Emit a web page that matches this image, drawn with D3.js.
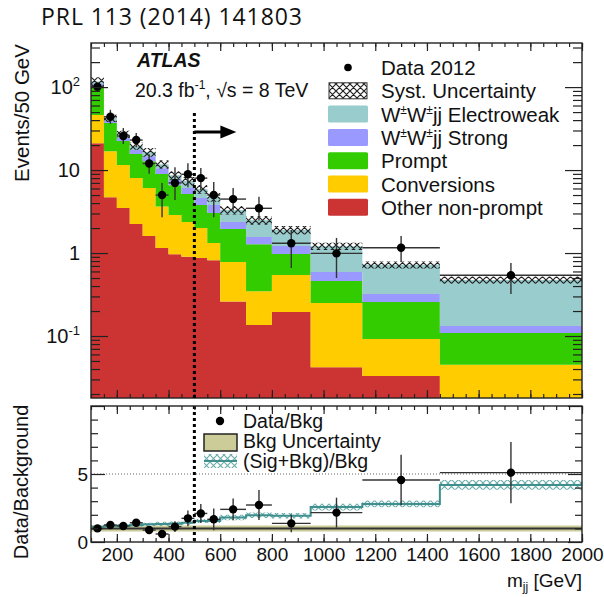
<!DOCTYPE html>
<html>
<head>
<meta charset="utf-8">
<script src="https://cdn.jsdelivr.net/npm/d3@7"></script>
<style>
  body { margin: 0; background: #fff; }
  svg { display: block; }
  text { font-family: "Liberation Sans", Arial, Helvetica, sans-serif; fill: #111; }
</style>
</head>
<body>
<svg id="chart" width="604" height="597"></svg>
<script>
// m_jj bin edges [GeV]
const binEdges = [100, 150, 200, 250, 300, 350, 400, 450, 500, 550, 600, 700, 800, 950, 1150, 1450, 2000];

// Stacked expectation, events / 50 GeV
const otherNonPrompt = [21, 4.7, 3.5, 2.24, 1.6, 1.15, 0.97, 0.9, 0.87, 0.82, 0.26, 0.136, 0.195, 0.042, 0.033, 0.012];
const conversions    = [25, 12.2, 8.0, 5.8, 4.5, 2.5, 1.9, 1.46, 1.13, 0.5, 0.52, 0.21, 0.35, 0.208, 0.059, 0.033];
const promptBkg      = [57, 20.0, 10.9, 7.6, 6.7, 5.3, 3.7, 2.78, 1.79, 1.71, 1.17, 0.93, 0.43, 0.21, 0.165, 0.064];
const wwStrong       = [6, 2.0, 1.9, 1.8, 1.9, 1.6, 1.0, 0.93, 0.81, 0.76, 0.41, 0.28, 0.24, 0.13, 0.064, 0.023];
const wwEWK          = [8, 3.4, 2.8, 2.1, 1.8, 1.2, 1.1, 1.3, 1.3, 0.94, 0.94, 0.94, 0.68, 0.62, 0.40, 0.341];
const systRel        = [0.12, 0.1, 0.1, 0.1, 0.12, 0.12, 0.12, 0.12, 0.12, 0.12, 0.12, 0.12, 0.12, 0.1, 0.1, 0.1];

// Data 2012, events / 50 GeV
const data2012   = [101, 43.9, 25.7, 23.0, 12.0, 5.0, 7.0, 8.9, 8.0, 5.0, 4.47, 3.46, 1.31, 0.99, 1.16, 0.54];
const dataErrUp  = [10, 9.4, 6.4, 5.0, 3.5, 2.0, 3.8, 3.2, 2.6, 2.2, 1.6, 1.3, 0.58, 0.53, 0.44, 0.22];
const dataErrDn  = [10, 7.8, 5.1, 4.2, 3.0, 2.3, 2.65, 2.7, 2.3, 2.3, 1.2, 1.0, 0.65, 0.49, 0.38, 0.22];

// Ratio panel
const ratioData   = [1.0, 1.25, 1.18, 1.42, 0.88, 0.59, 1.13, 1.74, 2.1, 1.67, 2.4, 2.72, 1.37, 2.16, 4.56, 5.1];
const ratioErr    = [0.12, 0.2, 0.22, 0.28, 0.28, 0.3, 0.4, 0.58, 0.7, 0.8, 0.8, 1.1, 0.65, 1.1, 1.85, 2.25];
const ratioSigBkg = [1.13, 1.18, 1.2, 1.25, 1.3, 1.33, 1.35, 1.42, 1.55, 1.55, 1.8, 1.97, 1.93, 2.57, 2.8, 4.2];
const sigBkgUnc   = [0.12, 0.12, 0.12, 0.12, 0.12, 0.15, 0.15, 0.15, 0.15, 0.15, 0.2, 0.2, 0.2, 0.25, 0.25, 0.35];
const bkgUnc      = [0.22, 0.22, 0.22, 0.22, 0.22, 0.22, 0.22, 0.22, 0.22, 0.22, 0.22, 0.22, 0.22, 0.22, 0.22, 0.22];

// Axis ticks
const xMajorTicks = [200, 400, 600, 800, 1000, 1200, 1400, 1600, 1800, 2000];
const xMinorTicks = d3.range(100, 2001, 50);
const yMajorTicks = [0.1, 1, 10, 100];
const yMajorLabels = [["10", "-1"], ["1", ""], ["10", ""], ["10", "2"]];
const rMajorTicks = [0, 5, 10];
const rMinorTicks = [1, 2, 3, 4, 6, 7, 8, 9];
const mjjCut = 500;

// ---- layout ----
const L = 91, R = 582, T1 = 43, B1 = 398, T2 = 406, B2 = 542;
const svg = d3.select("#chart");
const x = d3.scaleLinear().domain([100, 2000]).range([L, R]);
const y = d3.scaleLog().domain([0.0179, 340]).range([B1, T1]).clamp(true);
const yr = d3.scaleLinear().domain([0, 10]).range([B2, T2]);
const yMin = y.domain()[0];
const nb = binEdges.length - 1;
const bx0 = i => x(binEdges[i]);
const bx1 = i => x(binEdges[i + 1]);
const bxc = i => x((binEdges[i] + binEdges[i + 1]) / 2);

const defs = svg.append("defs");
defs.append("clipPath").attr("id", "clipMain").append("rect")
  .attr("x", L).attr("y", T1).attr("width", R - L).attr("height", B1 - T1);
defs.append("clipPath").attr("id", "clipLow").append("rect")
  .attr("x", L).attr("y", T2).attr("width", R - L).attr("height", B2 - T2);
const hatch = defs.append("pattern").attr("id", "hatchSyst")
  .attr("patternUnits", "userSpaceOnUse").attr("width", 7).attr("height", 7);
hatch.append("path").attr("d", "M0,0L7,7M7,0L0,7M-1,6L1,8M6,-1L8,1")
  .attr("stroke", "#222").attr("stroke-width", 1.2).attr("fill", "none");
const hatchT = defs.append("pattern").attr("id", "hatchTeal")
  .attr("patternUnits", "userSpaceOnUse").attr("width", 7).attr("height", 7);
hatchT.append("path").attr("d", "M0,0L7,7M7,0L0,7")
  .attr("stroke", "#6aabab").attr("stroke-width", 1.1).attr("fill", "none");

// ---- title ----
svg.append("text").attr("x", 41).attr("y", 25)
  .style("font-family", "'Open Sans', 'Noto Sans', sans-serif").style("font-size", "23px")
  .attr("textLength", 261).attr("lengthAdjust", "spacing")
  .text("PRL 113 (2014) 141803");

// ---- main panel: stacked histogram, one step-area per component ----
const rows = d3.range(nb).map(i => ({
  other: otherNonPrompt[i], conv: conversions[i], prompt: promptBkg[i],
  strong: wwStrong[i], ewk: wwEWK[i]
}));
const keys = ["other", "conv", "prompt", "strong", "ewk"];
const colors = { other: "#cc3333", conv: "#ffcc00", prompt: "#33cc00", strong: "#9999ff", ewk: "#99cccc" };
const stacked = d3.stack().keys(keys)(rows);

const stepArea = d3.area().curve(d3.curveStepAfter)
  .x(d => x(d.edge))
  .y0(d => y(Math.max(d.lo, yMin)))
  .y1(d => y(Math.max(d.hi, yMin)));
const withEnd = pts => pts.concat([{ ...pts[pts.length - 1], edge: binEdges[nb] }]);

const gMain = svg.append("g").attr("clip-path", "url(#clipMain)");
stacked.forEach(layer => {
  const pts = withEnd(layer.map((d, i) => ({ edge: binEdges[i], lo: d[0], hi: d[1] })));
  gMain.append("path").attr("d", stepArea(pts)).attr("fill", colors[layer.key]);
});

// systematic band around the total
const totals = stacked[stacked.length - 1].map(d => d[1]);
const systPts = withEnd(totals.map((t, i) => ({ edge: binEdges[i], lo: t * (1 - systRel[i]), hi: t * (1 + systRel[i]) })));
gMain.append("path").attr("d", stepArea(systPts)).attr("fill", "url(#hatchSyst)");

// data points
const gData = gMain.append("g");
d3.range(nb).forEach(i => {
  const v = data2012[i];
  gData.append("line").attr("x1", bx0(i)).attr("x2", bx1(i)).attr("y1", y(v)).attr("y2", y(v))
    .attr("stroke", "#333").attr("stroke-width", 1.4);
  gData.append("line").attr("x1", bxc(i)).attr("x2", bxc(i))
    .attr("y1", y(v + dataErrUp[i])).attr("y2", y(v - dataErrDn[i]))
    .attr("stroke", "#333").attr("stroke-width", 1.4);
  gData.append("circle").attr("cx", bxc(i)).attr("cy", y(v)).attr("r", 4.2).attr("fill", "#000");
});

// ---- main panel axes ----
function tickAxis(axis, tx, ty, size) {
  svg.append("g").attr("transform", `translate(${tx},${ty})`)
    .call(axis.tickSize(size).tickFormat(""))
    .call(g => g.select(".domain").remove())
    .call(g => g.selectAll("line").attr("stroke", "#222").attr("stroke-width", 1.2));
}
tickAxis(d3.axisBottom(x).tickValues(xMajorTicks), 0, B1, -8);
tickAxis(d3.axisBottom(x).tickValues(xMinorTicks), 0, B1, -4);
tickAxis(d3.axisTop(x).tickValues(xMajorTicks), 0, T1, -8);
tickAxis(d3.axisTop(x).tickValues(xMinorTicks), 0, T1, -4);

const yMinor = [];
[0.01, 0.1, 1, 10, 100].forEach(dec => d3.range(2, 10).forEach(k => {
  const v = k * dec;
  if (v > yMin && v < 340) yMinor.push(v);
}));
tickAxis(d3.axisLeft(y).tickValues(yMajorTicks), L, 0, -17);
tickAxis(d3.axisLeft(y).tickValues(yMinor), L, 0, -9);
tickAxis(d3.axisRight(y).tickValues(yMajorTicks), R, 0, -17);
tickAxis(d3.axisRight(y).tickValues(yMinor), R, 0, -9);

yMajorTicks.forEach((v, i) => {
  const t = svg.append("text").attr("x", 80).attr("y", y(v) + 7)
    .attr("text-anchor", "end").style("font-size", "20px");
  t.append("tspan").text(yMajorLabels[i][0]);
  if (yMajorLabels[i][1]) {
    t.append("tspan").attr("dy", -8).style("font-size", "13px").text(yMajorLabels[i][1]);
  }
});

svg.append("rect").attr("x", L).attr("y", T1).attr("width", R - L).attr("height", B1 - T1)
  .attr("fill", "none").attr("stroke", "#222").attr("stroke-width", 1.4);

svg.append("text").attr("transform", `translate(29,113) rotate(-90)`)
  .attr("text-anchor", "middle").style("font-size", "20.5px").text("Events/50 GeV");

// ---- labels inside main panel ----
svg.append("text").attr("x", 137).attr("y", 67)
  .style("font-size", "19.5px").style("font-weight", "bold").style("font-style", "italic")
  .text("ATLAS");
const lumi = svg.append("text").attr("x", 135).attr("y", 97).style("font-size", "19.5px");
lumi.append("tspan").text("20.3 fb");
lumi.append("tspan").attr("dy", -8).style("font-size", "12px").text("-1");
lumi.append("tspan").attr("dy", 8).text(", \u221As = 8 TeV");

// cut line and arrow
const cutX = x(mjjCut);
svg.append("line").attr("x1", cutX).attr("x2", cutX).attr("y1", 113).attr("y2", B1)
  .attr("stroke", "#000").attr("stroke-width", 3).attr("stroke-dasharray", "3,3");
svg.append("line").attr("x1", cutX).attr("x2", cutX + 28).attr("y1", 132).attr("y2", 132)
  .attr("stroke", "#000").attr("stroke-width", 3);
svg.append("path")
  .attr("d", `M${cutX + 26},125.5L${cutX + 42},132L${cutX + 26},138.5Z`).attr("fill", "#000");

// ---- main legend ----
const legItems = [
  { label: ["Data 2012"], type: "dot" },
  { label: ["Syst. Uncertainty"], type: "hatch" },
  { label: ["W", "\u00B1", "W", "\u00B1", "jj Electroweak"], type: "ewk" },
  { label: ["W", "\u00B1", "W", "\u00B1", "jj Strong"], type: "strong" },
  { label: ["Prompt"], type: "prompt" },
  { label: ["Conversions"], type: "conv" },
  { label: ["Other non-prompt"], type: "other" }
];
const legTop = 67.5, legStep = 23.3;
legItems.forEach((it, i) => {
  const cy = legTop + i * legStep;
  if (it.type === "dot") {
    svg.append("circle").attr("cx", 348).attr("cy", cy).attr("r", 3.8).attr("fill", "#000");
  } else if (it.type === "hatch") {
    svg.append("rect").attr("x", 329).attr("y", cy - 8).attr("width", 38).attr("height", 16)
      .attr("fill", "url(#hatchSyst)").attr("stroke", "#333").attr("stroke-width", 1);
  } else {
    svg.append("rect").attr("x", 328).attr("y", cy - 8.5).attr("width", 40).attr("height", 17)
      .attr("rx", 1.5).attr("fill", colors[it.type]);
  }
  const t = svg.append("text").attr("x", 381).attr("y", cy + 7.5).style("font-size", "20.5px");
  it.label.forEach((s, k) => {
    if (s === "\u00B1") {
      t.append("tspan").attr("dy", -8).style("font-size", "12px").text(s);
    } else {
      const sp = t.append("tspan").text(s);
      if (k > 0 && it.label[k - 1] === "\u00B1") sp.attr("dy", 8);
    }
  });
});

// ---- ratio panel ----
const ratioArea = d3.area().curve(d3.curveStepAfter)
  .x(d => x(d.edge)).y0(d => yr(d.lo)).y1(d => yr(d.hi));
const gLow = svg.append("g").attr("clip-path", "url(#clipLow)");
// background uncertainty band
gLow.append("path")
  .attr("d", ratioArea(withEnd(bkgUnc.map((u, i) => ({ edge: binEdges[i], lo: 1 - u, hi: 1 + u })))))
  .attr("fill", "#cccc99");
gLow.append("line").attr("x1", L).attr("x2", R).attr("y1", yr(1)).attr("y2", yr(1))
  .attr("stroke", "#333").attr("stroke-width", 2);
// reference line at 5
gLow.append("line").attr("x1", L).attr("x2", R).attr("y1", yr(5)).attr("y2", yr(5))
  .attr("stroke", "#666").attr("stroke-width", 1).attr("stroke-dasharray", "1,2");
// (Sig+Bkg)/Bkg band and line
gLow.append("path")
  .attr("d", ratioArea(withEnd(ratioSigBkg.map((v, i) => ({ edge: binEdges[i], lo: v - sigBkgUnc[i], hi: v + sigBkgUnc[i] })))))
  .attr("fill", "url(#hatchTeal)");
const stepPts = ratioSigBkg.map((v, i) => [binEdges[i], v]).concat([[binEdges[nb], ratioSigBkg[nb - 1]]]);
gLow.append("path")
  .attr("d", d3.line().x(d => x(d[0])).y(d => yr(d[1])).curve(d3.curveStepAfter)(stepPts))
  .attr("fill", "none").attr("stroke", "#3f8f8f").attr("stroke-width", 2);
// data / background points
d3.range(nb).forEach(i => {
  const v = ratioData[i];
  gLow.append("line").attr("x1", bx0(i)).attr("x2", bx1(i)).attr("y1", yr(v)).attr("y2", yr(v))
    .attr("stroke", "#333").attr("stroke-width", 1.4);
  gLow.append("line").attr("x1", bxc(i)).attr("x2", bxc(i))
    .attr("y1", yr(v + ratioErr[i])).attr("y2", yr(Math.max(0, v - ratioErr[i])))
    .attr("stroke", "#333").attr("stroke-width", 1.4);
  gLow.append("circle").attr("cx", bxc(i)).attr("cy", yr(v)).attr("r", 4.2).attr("fill", "#000");
});

svg.append("line").attr("x1", cutX).attr("x2", cutX).attr("y1", T2).attr("y2", B2)
  .attr("stroke", "#000").attr("stroke-width", 3).attr("stroke-dasharray", "3,3");

// ratio axes
tickAxis(d3.axisBottom(x).tickValues(xMajorTicks), 0, B2, -8);
tickAxis(d3.axisBottom(x).tickValues(xMinorTicks), 0, B2, -4);
tickAxis(d3.axisTop(x).tickValues(xMajorTicks), 0, T2, -8);
tickAxis(d3.axisTop(x).tickValues(xMinorTicks), 0, T2, -4);
tickAxis(d3.axisLeft(yr).tickValues(rMajorTicks), L, 0, -14);
tickAxis(d3.axisLeft(yr).tickValues(rMinorTicks), L, 0, -7);
tickAxis(d3.axisRight(yr).tickValues(rMajorTicks), R, 0, -14);
tickAxis(d3.axisRight(yr).tickValues(rMinorTicks), R, 0, -7);

svg.append("g").attr("transform", `translate(0,${B2})`)
  .call(d3.axisBottom(x).tickValues(xMajorTicks).tickSize(0).tickPadding(6).tickFormat(d3.format("d")))
  .call(g => g.select(".domain").remove())
  .call(g => g.selectAll("text").style("font-size", "19px")
    .style("font-family", "'Liberation Sans', Arial, sans-serif").attr("fill", "#111"));

[0, 5].forEach(v => {
  svg.append("text").attr("x", 88).attr("y", yr(v) + 7).attr("text-anchor", "end")
    .style("font-size", "19px").text(v);
});

svg.append("rect").attr("x", L).attr("y", T2).attr("width", R - L).attr("height", B2 - T2)
  .attr("fill", "none").attr("stroke", "#222").attr("stroke-width", 1.4);

svg.append("text").attr("transform", `translate(28,482) rotate(-90)`)
  .attr("text-anchor", "middle").style("font-size", "20px").text("Data/Background");

const xl = svg.append("text").attr("x", 582).attr("y", 587).attr("text-anchor", "end").style("font-size", "19px");
xl.append("tspan").text("m");
xl.append("tspan").attr("dy", 4).style("font-size", "12px").text("jj");
xl.append("tspan").attr("dy", -4).text(" [GeV]");

// ratio legend
svg.append("circle").attr("cx", 220).attr("cy", 421).attr("r", 4.2).attr("fill", "#000");
svg.append("text").attr("x", 243).attr("y", 428).style("font-size", "19.5px").text("Data/Bkg");
svg.append("rect").attr("x", 204).attr("y", 434).attr("width", 33).attr("height", 17)
  .attr("fill", "#cccc99").attr("stroke", "#222").attr("stroke-width", 1.5);
svg.append("text").attr("x", 243).attr("y", 448).style("font-size", "19.5px").text("Bkg Uncertainty");
svg.append("rect").attr("x", 204).attr("y", 454).attr("width", 33).attr("height", 14)
  .attr("fill", "url(#hatchTeal)");
svg.append("line").attr("x1", 204).attr("x2", 237).attr("y1", 461).attr("y2", 461)
  .attr("stroke", "#3f8f8f").attr("stroke-width", 2);
svg.append("text").attr("x", 243).attr("y", 468).style("font-size", "19.5px").text("(Sig+Bkg)/Bkg");
</script>
</body>
</html>
